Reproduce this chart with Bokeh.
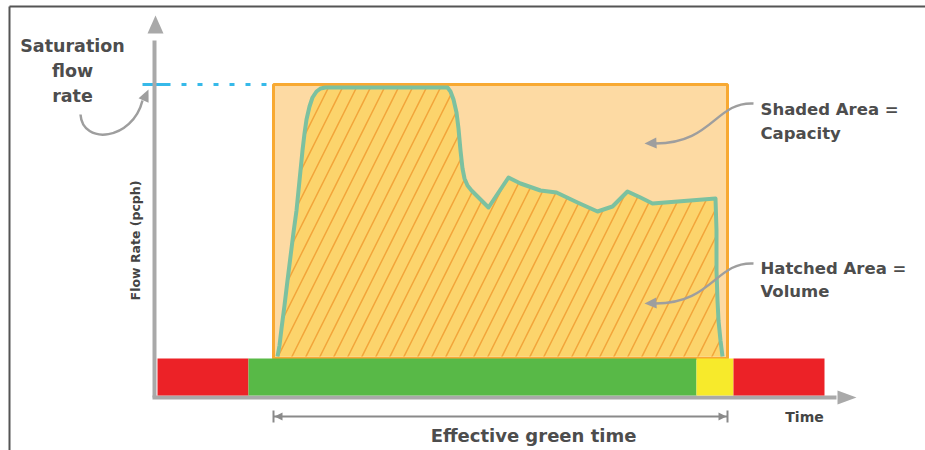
import math
from bokeh.plotting import figure
from bokeh.models import Range1d
from bokeh.core.properties import value
from bokeh.embed import file_html
from bokeh.resources import INLINE

# ---------------- data (diagram units: x = time, y = screen-down flow scale) ----------------
signal_colors = ["#EC2227", "#58B947", "#F7EA2B", "#EC2227"]
signal_start = [157, 248, 696, 733]
signal_end = [248, 696, 733, 824]
signal_top, signal_bottom = 358, 395

green_start, green_end = 273, 727      # effective green
sat_flow = 84                          # saturation flow level
base_flow = 358                        # zero-flow level

flow_t = [277, 279, 281, 284, 287, 290, 293, 296, 298, 300, 302, 304, 306, 309, 312, 316,
          320, 325, 447, 450, 453, 456, 458, 460, 462, 464, 467, 471, 476, 488, 508, 520,
          540, 556, 577, 597, 612, 627, 640, 652, 715, 716, 716, 717, 718, 720, 722]
flow_q = [356, 345, 328, 305, 280, 256, 232, 210, 190, 170, 150, 133, 119, 106, 97, 91,
          88, 87, 87, 91, 99, 112, 128, 150, 168, 178, 185, 190, 195, 207, 177, 183,
          190, 192, 202, 211, 206, 191, 197, 203, 198, 230, 270, 300, 320, 340, 356]

TXT = "#4D4D4D"
GRAY = "#A9A9A9"
FONT = value("DejaVu Sans")

p = figure(width=925, height=450, x_range=Range1d(0, 925), y_range=Range1d(450, 0),
           output_backend="svg", toolbar_location=None, min_border=0,
           background_fill_color="white", border_fill_color="white")
p.axis.visible = False
p.grid.visible = False
p.outline_line_color = None


def head(tip_x, tip_y, dx, dy, length, width):
    n = math.hypot(dx, dy)
    ux, uy = dx / n, dy / n
    bx, by = tip_x - ux * length, tip_y - uy * length
    px, py = -uy * width / 2, ux * width / 2
    return [tip_x, bx + px, bx - px], [tip_y, by + py, by - py]


# frame lines
p.line([9, 925], [6, 6], line_color="#555555", line_width=2)
p.line([9, 9], [6, 450], line_color="#555555", line_width=2)

# capacity rectangle
p.quad(left=[green_start], right=[green_end], top=[sat_flow], bottom=[base_flow],
       fill_color="#FDDAA3", line_color="#F8A932", line_width=3)

# volume (hatched area)
p.patch(flow_t, flow_q, fill_color="#FCD46C", line_color=None,
        hatch_pattern="/", hatch_color="#F2A53A", hatch_scale=28, hatch_weight=1.5)
p.line(flow_t, flow_q, line_color="#7CC1A0", line_width=4, line_join="round")

# saturation flow line
p.line([142, 170], [sat_flow, sat_flow], line_color="#36B9E9", line_width=3)
p.line([181, green_start - 2], [sat_flow, sat_flow], line_color="#36B9E9",
       line_width=3, line_dash="5 11")

# axes
p.line([154, 154], [40, 397], line_color=GRAY, line_width=4)
hx, hy = head(155, 15, 0, -1, 18, 16)
p.patch(hx, hy, fill_color=GRAY, line_color=None)
p.line([152, 836], [397, 397], line_color=GRAY, line_width=4)
hx, hy = head(856, 397, 1, 0, 19, 14)
p.patch(hx, hy, fill_color=GRAY, line_color=None)

# signal bar
p.quad(left=signal_start, right=signal_end, top=signal_top, bottom=signal_bottom,
       fill_color=signal_colors, line_color=None)

# effective green dimension line
p.line([green_start, green_end], [416, 416], line_color="#8A8A8A", line_width=2)
p.line([green_start, green_start], [410, 422], line_color="#8A8A8A", line_width=2)
p.line([green_end, green_end], [410, 422], line_color="#8A8A8A", line_width=2)
hx, hy = head(green_start + 1, 416, -1, 0, 8, 8)
p.patch(hx, hy, fill_color="#8A8A8A", line_color=None)
hx, hy = head(green_end - 1, 416, 1, 0, 8, 8)
p.patch(hx, hy, fill_color="#8A8A8A", line_color=None)

# curved pointer arrows
ARW = "#9E9E9E"
p.bezier(x0=[80], y0=[114], x1=[142], y1=[100], cx0=[82], cy0=[145], cx1=[132], cy1=[140],
         line_color=ARW, line_width=2.5)
hx, hy = head(148, 89, 0.45, -1, 12, 11)
p.patch(hx, hy, fill_color=ARW, line_color=None)

for yy in (103, 263):
    p.bezier(x0=[753], y0=[yy], x1=[655], y1=[yy + 40], cx0=[715], cy0=[yy - 2],
             cx1=[712], cy1=[yy + 40], line_color=ARW, line_width=2.5)
    hx, hy = head(644, yy + 40, -1, 0.05, 12, 11)
    p.patch(hx, hy, fill_color=ARW, line_color=None)

# texts
p.text(x=[72, 72, 72], y=[45, 70, 95], text=["Saturation", "flow", "rate"],
       text_font=FONT, text_font_style="bold", text_font_size="17.5px",
       text_color=TXT, text_align="center", text_baseline="middle")
p.text(x=[760, 760], y=[109, 133], text=["Shaded Area =", "Capacity"],
       text_font=FONT, text_font_style="bold", text_font_size="16.5px",
       text_color=TXT, text_align="left", text_baseline="middle")
p.text(x=[760, 760], y=[268, 291], text=["Hatched Area =", "Volume"],
       text_font=FONT, text_font_style="bold", text_font_size="16.5px",
       text_color=TXT, text_align="left", text_baseline="middle")
p.text(x=[135], y=[240], text=["Flow Rate (pcph)"], angle=[math.pi / 2],
       text_font=FONT, text_font_style="bold", text_font_size="12.5px",
       text_color="#444444", text_align="center", text_baseline="middle")
p.text(x=[804], y=[416], text=["Time"], text_font=FONT, text_font_style="bold",
       text_font_size="14px", text_color="#444444", text_align="center",
       text_baseline="middle")
p.text(x=[533], y=[435], text=["Effective green time"], text_font=FONT,
       text_font_style="bold", text_font_size="18px", text_color=TXT,
       text_align="center", text_baseline="middle")

open("out.html", "w").write(file_html(p, INLINE))
